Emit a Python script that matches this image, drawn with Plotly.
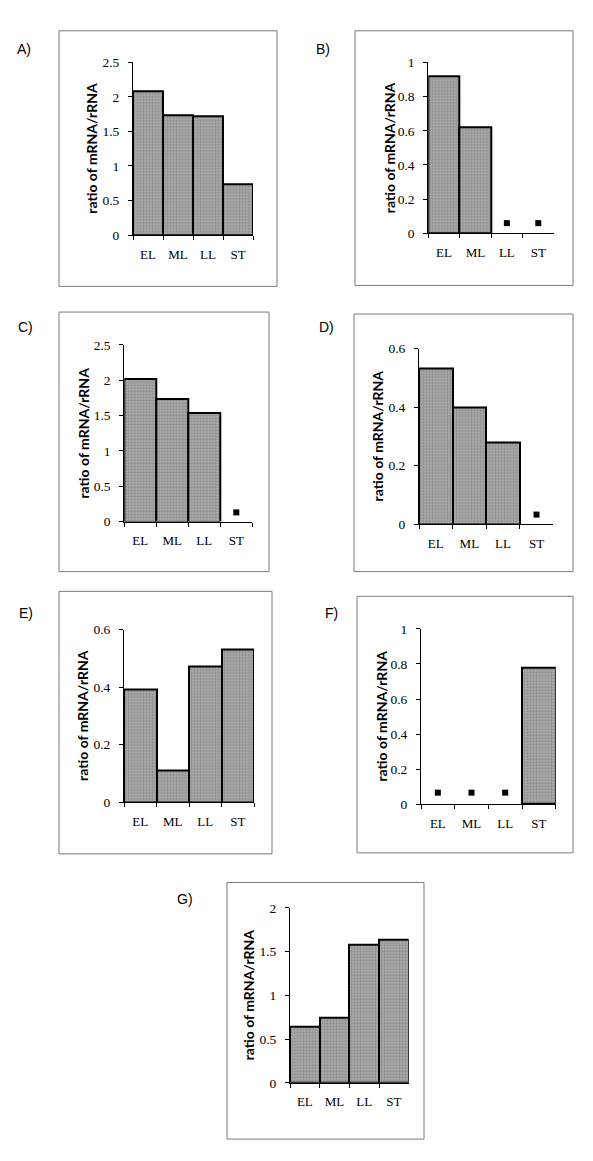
import plotly.graph_objects as go

# page body has an 8px default margin; draw in page pixels and convert
OFF = 8
W, H = 593 - 2 * OFF, 1161 - 2 * OFF

categories = ["EL", "ML", "LL", "ST"]

A_vals = [2.08, 1.74, 1.72, 0.73]
B_vals = [0.92, 0.62, None, None]
B_marks = [None, None, 0.06, 0.06]
C_vals = [2.02, 1.73, 1.54, None]
C_marks = [None, None, None, 0.13]
D_vals = [0.53, 0.40, 0.28, None]
D_marks = [None, None, None, 0.033]
E_vals = [0.39, 0.11, 0.47, 0.53]
F_vals = [None, None, None, 0.78]
F_marks = [0.066, 0.066, 0.066, None]
G_vals = [0.64, 0.74, 1.58, 1.63]

panel_labels = ["A)", "B)", "C)", "D)", "E)", "F)", "G)"]
y_title = "ratio of mRNA/rRNA"

panels = [
    dict(vals=A_vals, marks=None, ymax=2.5, dtick=0.5,
         plot=(133, 253, 231, 56), box=(59, 24, 277, 283), lab=(24, 42), toff=41),
    dict(vals=B_vals, marks=B_marks, ymax=1.0, dtick=0.2,
         plot=(428.3, 554, 229.3, 56), box=(355, 24, 573, 282), lab=(323, 42), toff=38),
    dict(vals=C_vals, marks=C_marks, ymax=2.5, dtick=0.5,
         plot=(124.3, 252.3, 521.3, 342.3), box=(59, 309, 269, 572), lab=(25, 324), toff=41),
    dict(vals=D_vals, marks=D_marks, ymax=0.6, dtick=0.2,
         plot=(419, 553.3, 524, 346), box=(354, 311, 573, 572), lab=(326, 324), toff=42),
    dict(vals=E_vals, marks=None, ymax=0.6, dtick=0.2,
         plot=(124, 254, 805.7, 630.7), box=(59, 592, 272, 858), lab=(26, 614), toff=41),
    dict(vals=F_vals, marks=F_marks, ymax=1.0, dtick=0.2,
         plot=(421, 555.7, 807.7, 630), box=(357, 597, 573, 857), lab=(331, 614), toff=39),
    dict(vals=G_vals, marks=None, ymax=2.0, dtick=0.5,
         plot=(290, 408.7, 1090, 912.7), box=(227, 887, 424, 1147), lab=(185, 904), toff=42),
]


def px(x):
    return (x - OFF) / W


def py(y):
    return 1 - (y - OFF) / H


fig = go.Figure()
layout = {}
shapes = []
annotations = []

serif = "Liberation Serif"

for i, p in enumerate(panels):
    n = "" if i == 0 else str(i + 1)
    xa, ya = "x" + n, "y" + n
    x0, x1, yb, yt = p["plot"]
    fig.add_trace(go.Bar(
        x=categories, y=p["vals"], xaxis=xa, yaxis=ya, width=1.0,
        marker=dict(color="#9d9d9d", line=dict(color="black", width=2),
                    pattern=dict(shape=".", fgcolor="#6c6c6c", bgcolor="#a9a9a9",
                                 size=3, solidity=0.4)),
        showlegend=False, hoverinfo="skip"))
    if p["marks"] is not None:
        fig.add_trace(go.Scatter(
            x=categories, y=p["marks"], xaxis=xa, yaxis=ya, mode="markers",
            marker=dict(symbol="square", size=6, color="black"),
            showlegend=False, hoverinfo="skip", cliponaxis=False))
    layout["xaxis" + n] = dict(
        domain=[px(x0), px(x1)], anchor=ya, range=[-0.5, 3.5],
        type="category", showline=True, linecolor="black", linewidth=1,
        ticks="outside", tickson="boundaries", ticklen=4, tickcolor="black",
        showgrid=False, zeroline=False, ticklabelstandoff=7,
        tickfont=dict(family=serif, size=13, color="black"), fixedrange=True)
    layout["yaxis" + n] = dict(
        domain=[py(yb), py(yt)], anchor=xa, range=[0, p["ymax"]],
        dtick=p["dtick"], tick0=0, showline=True, linecolor="black", linewidth=1,
        ticks="outside", ticklen=4, tickcolor="black", showgrid=False,
        zeroline=False, ticklabelstandoff=6,
        tickfont=dict(family=serif, size=13.5, color="black"), fixedrange=True)
    bx0, by0, bx1, by1 = p["box"]
    shapes.append(dict(type="rect", xref="paper", yref="paper",
                       x0=px(bx0), x1=px(bx1), y0=py(by1), y1=py(by0),
                       line=dict(color="#7a7a7a", width=1), fillcolor="rgba(0,0,0,0)",
                       layer="below"))
    lx, ly = p["lab"]
    annotations.append(dict(text=panel_labels[i], xref="paper", yref="paper",
                            x=px(lx), y=py(ly), showarrow=False,
                            xanchor="center", yanchor="middle",
                            font=dict(family="Liberation Sans", size=14, color="black")))
    annotations.append(dict(text="<b>" + y_title + "</b>", xref="paper", yref="paper",
                            x=px(x0 - p["toff"]), y=py((yb + yt) / 2),
                            showarrow=False, textangle=-90,
                            xanchor="center", yanchor="middle",
                            font=dict(family="Lato", size=14, color="black")))

fig.update_layout(
    width=W, height=H, margin=dict(l=0, r=0, t=0, b=0),
    paper_bgcolor="white", plot_bgcolor="rgba(0,0,0,0)",
    bargap=0, shapes=shapes, annotations=annotations, **layout)

fig.write_html("out.html")
